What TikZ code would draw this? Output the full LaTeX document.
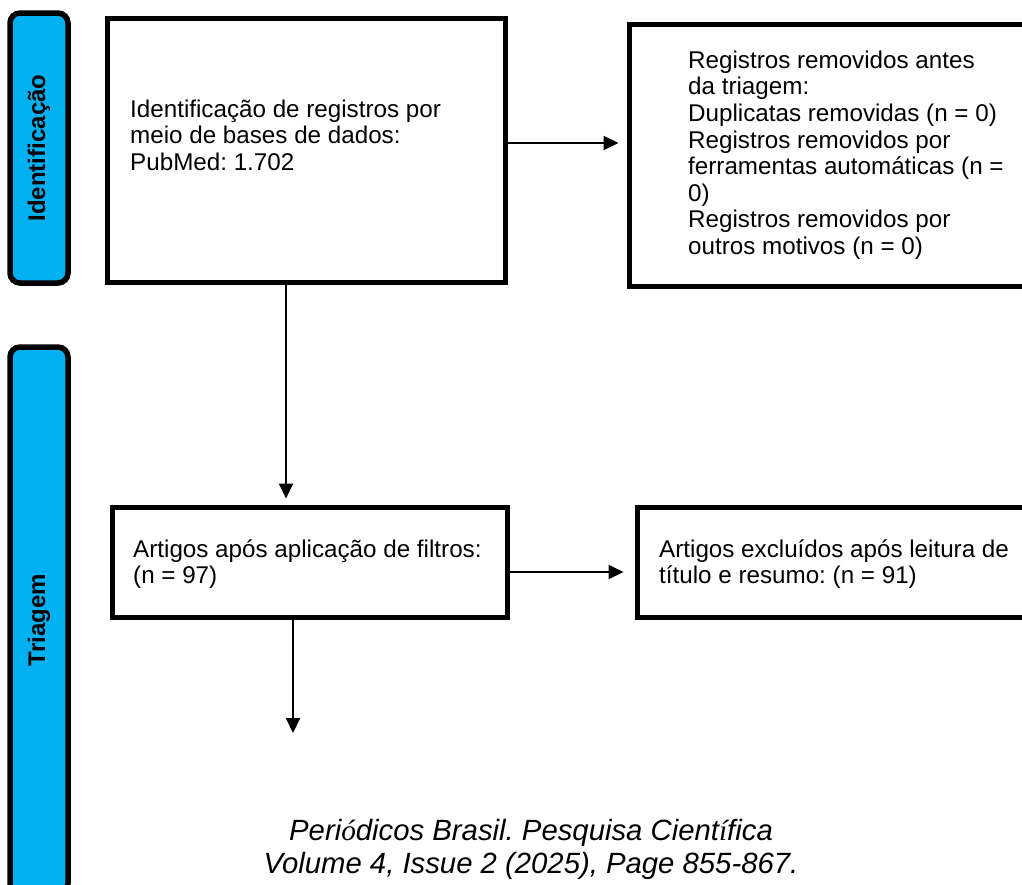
\documentclass[tikz,border=0pt]{standalone}
\usepackage{fontspec}
\setmainfont{Liberation Sans}
\newfontfamily\oddserif{Liberation Serif}
\usetikzlibrary{arrows.meta}
\definecolor{barblue}{HTML}{00B0F0}
\frenchspacing
\begin{document}
\frenchspacing
\begin{tikzpicture}[x=1pt,y=-1pt,
  box/.style={draw=black, line width=5pt, fill=white, inner sep=0pt},
  bar/.style={draw=black, line width=5.5pt, fill=barblue, rounded corners=10pt, inner sep=0pt},
  barlabel/.style={rotate=90, font=\fontsize{24}{27}\selectfont\bfseries, inner sep=0pt},
  boxtext/.style={anchor=north west, align=left, inner sep=0pt, font=\fontsize{24.2}{26.6}\selectfont},
  arr/.style={line width=2pt, -{Triangle[length=15pt,width=14pt]}}]
\useasboundingbox (0,0) rectangle (1022,884);
\clip (0,0) rectangle (1022,884);
\fill[white] (0,0) rectangle (1022,884);
% phase bars
\node[bar, minimum width=58pt, minimum height=270pt] (bar1) at (39,148) {};
\node[barlabel] (lab1) at (bar1.center) {Identificação};
\node[bar, minimum width=58pt, minimum height=546pt] (bar2) at (39,620) {};
\node[barlabel] (lab2) at (bar2.center) {Triagem};
% boxes
\node[box, minimum width=398pt, minimum height=264pt] (b1) at (306,150) {};
\node[box, minimum width=416pt, minimum height=262pt] (b2) at (837,155) {};
\node[box, minimum width=395pt, minimum height=110pt] (b3) at (309.5,562) {};
\node[box, minimum width=408pt, minimum height=110pt] (b4) at (841,562) {};
% texts
\node[boxtext] (t1) at (130,98.4) {\strut Identificação de registros por\\meio de bases de dados:\\PubMed: 1.702};
\node[boxtext] (t2) at (688,49.4) {\strut Registros removidos antes\\da triagem:\\Duplicatas removidas (n = 0)\\Registros removidos por\\ferramentas automáticas (n =\\0)\\Registros removidos por\\outros motivos (n = 0)};
\node[boxtext] (t3) at (133,538.4) {\strut Artigos após aplicação de filtros:\\(n = 97)};
\node[boxtext] (t4) at (659,538.4) {\strut Artigos excluídos após leitura de\\título e resumo: (n = 91)};
% connectors
\coordinate (y1) at (0,143);
\coordinate (x2) at (286,0);
\coordinate (y3) at (0,572);
\coordinate (x4) at (293,0);
\coordinate (end4) at (293,733);
\draw[arr, shorten >=8pt] (b1.east |- y1) -- (b2.west |- y1);
\draw[arr, shorten >=6pt] (b1.south -| x2) -- (b3.north -| x2);
\draw[arr, shorten >=11pt] (b3.east |- y3) -- (b4.west |- y3);
\draw[arr] (b3.south -| x4) -- (end4);
% footer
\node[anchor=north, align=center, inner sep=0pt, font=\fontsize{29.3}{33}\selectfont\itshape] (foot) at (531,816.9)
  {\strut Peri{\oddserif ó}dicos Brasil. Pesquisa Cient{\oddserif í}fica\\Volume 4, Issue 2 (2025), Page 855-867.};
\end{tikzpicture}
\end{document}
